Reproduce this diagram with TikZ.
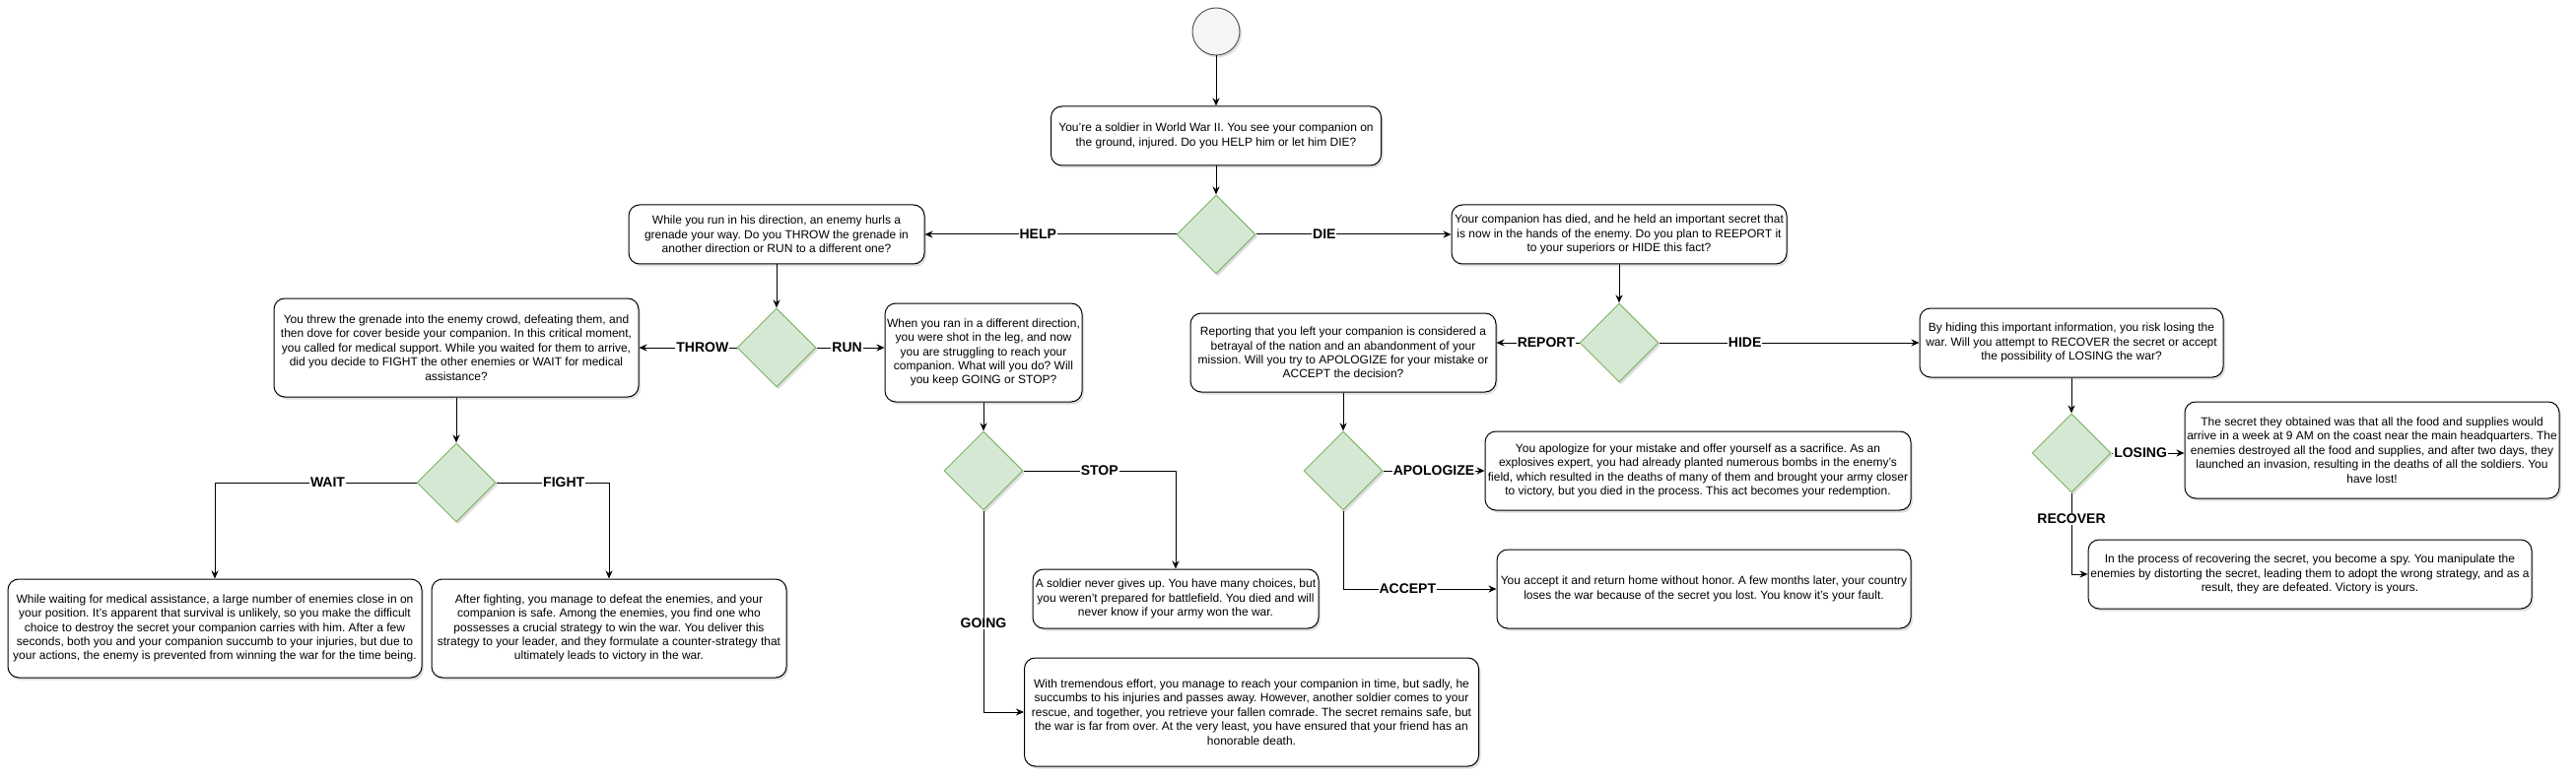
\documentclass[tikz,border=0pt]{standalone}
\usepackage{fontspec}
\setmainfont{Liberation Sans}
\usetikzlibrary{shapes.geometric,arrows.meta,shadows}
\definecolor{greenfill}{HTML}{D5E8D4}
\definecolor{greenline}{HTML}{82B366}
\definecolor{startfill}{HTML}{F5F5F5}
\frenchspacing
\begin{document}
\begin{tikzpicture}[x=1pt, y=-1pt, font=\fontsize{12}{14.4}\selectfont]
    \tikzstyle{box_style} = [draw=black, line width=1pt, rounded corners=11pt, fill=white, align=center, inner xsep=2pt, drop shadow={shadow xshift=2pt, shadow yshift=-2.5pt, opacity=0.25}]
    \tikzstyle{diamond_style} = [diamond, draw=greenline, line width=1pt, fill=greenfill, minimum width=80pt, minimum height=80pt, inner sep=0pt, drop shadow={shadow xshift=2pt, shadow yshift=-2.5pt, opacity=0.25}]
    \tikzstyle{label_style} = [fill=white, inner sep=1pt, font=\bfseries\fontsize{14}{16}\selectfont]
    \tikzstyle{arrow_style} = [->, black, line width=1pt, >={Stealth[length=8pt, width=7pt, inset=2.5pt]}]

    \useasboundingbox (0,0) rectangle (2614,794);

    \node[circle, draw=black!65, line width=1pt, fill=startfill, minimum size=48pt, drop shadow={shadow xshift=2pt, shadow yshift=-2.5pt, opacity=0.25}] (start) at (1234,32) {};
    \node[box_style, minimum width=335pt, minimum height=60pt] (q1) at (1234,138) {You're a soldier in World War II. You see your companion on\\the ground, injured. Do you HELP him or let him DIE?};
    \node[diamond_style] (d1) at (1234,238) {};

    \node[box_style, minimum width=300pt, minimum height=60pt] (help) at (788,238) {While you run in his direction, an enemy hurls a\\grenade your way. Do you THROW the grenade in\\another direction or RUN to a different one?};
    \node[box_style, minimum width=340pt, minimum height=60pt] (die) at (1643,238) {Your companion has died, and he held an important secret that\\is now in the hands of the enemy. Do you plan to REEPORT it\\to your superiors or HIDE this fact?};

    \node[diamond_style] (d2) at (788,353) {};
    \node[box_style, minimum width=370pt, minimum height=100pt] (throw) at (463,353) {You threw the grenade into the enemy crowd, defeating them, and\\then dove for cover beside your companion. In this critical moment,\\you called for medical support. While you waited for them to arrive,\\did you decide to FIGHT the other enemies or WAIT for medical\\assistance?};
    \node[box_style, minimum width=200pt, minimum height=100pt] (run) at (998,358) {When you ran in a different direction,\\you were shot in the leg, and now\\you are struggling to reach your\\companion. What will you do? Will\\you keep GOING or STOP?};

    \node[diamond_style] (d3) at (463,490) {};
    \node[box_style, minimum width=420pt, minimum height=100pt] (wait) at (218,638) {While waiting for medical assistance, a large number of enemies close in on\\your position. It's apparent that survival is unlikely, so you make the difficult\\choice to destroy the secret your companion carries with him. After a few\\seconds, both you and your companion succumb to your injuries, but due to\\your actions, the enemy is prevented from winning the war for the time being.};
    \node[box_style, minimum width=360pt, minimum height=100pt] (fight) at (618,638) {After fighting, you manage to defeat the enemies, and your\\companion is safe. Among the enemies, you find one who\\possesses a crucial strategy to win the war. You deliver this\\strategy to your leader, and they formulate a counter-strategy that\\ultimately leads to victory in the war.};

    \node[diamond_style] (d4) at (998,478) {};
    \node[box_style, minimum width=290pt, minimum height=60pt] (stop) at (1193,608) {A soldier never gives up. You have many choices, but\\you weren't prepared for battlefield. You died and will\\never know if your army won the war.};
    \node[box_style, minimum width=461pt, minimum height=110pt] (going) at (1270,723) {With tremendous effort, you manage to reach your companion in time, but sadly, he\\succumbs to his injuries and passes away. However, another soldier comes to your\\rescue, and together, you retrieve your fallen comrade. The secret remains safe, but\\the war is far from over. At the very least, you have ensured that your friend has an\\honorable death.};

    \node[diamond_style] (d5) at (1643,348) {};
    \node[box_style, minimum width=310pt, minimum height=80pt] (report) at (1363,358) {Reporting that you left your companion is considered a\\betrayal of the nation and an abandonment of your\\mission. Will you try to APOLOGIZE for your mistake or\\ACCEPT the decision?};
    \node[box_style, minimum width=308pt, minimum height=70pt] (hide) at (2102,348) {By hiding this important information, you risk losing the\\war. Will you attempt to RECOVER the secret or accept\\the possibility of LOSING the war?};

    \node[diamond_style] (d6) at (1363,478) {};
    \node[box_style, minimum width=432pt, minimum height=80pt] (apologize) at (1723,478) {You apologize for your mistake and offer yourself as a sacrifice. As an\\explosives expert, you had already planted numerous bombs in the enemy's\\field, which resulted in the deaths of many of them and brought your army closer\\to victory, but you died in the process. This act becomes your redemption.};
    \node[box_style, minimum width=420pt, minimum height=80pt] (accept) at (1729,598) {You accept it and return home without honor. A few months later, your country\\loses the war because of the secret you lost. You know it's your fault.};

    \node[diamond_style] (d7) at (2102,460) {};
    \node[box_style, minimum width=380pt, minimum height=98pt] (losing) at (2407,457) {The secret they obtained was that all the food and supplies would\\arrive in a week at 9 AM on the coast near the main headquarters. The\\enemies destroyed all the food and supplies, and after two days, they\\launched an invasion, resulting in the deaths of all the soldiers. You\\have lost!};
    \node[box_style, minimum width=450pt, minimum height=70pt] (recover) at (2344,583) {In the process of recovering the secret, you become a spy. You manipulate the\\enemies by distorting the secret, leading them to adopt the wrong strategy, and as a\\result, they are defeated. Victory is yours.};

    \draw[arrow_style] (start) -- (q1);
    \draw[arrow_style] (q1) -- (d1);
    \draw[arrow_style] (d1) -- node[label_style, pos=0.55] {HELP} (help);
    \draw[arrow_style] (d1) -- node[label_style, pos=0.35] {DIE} (die);
    \draw[arrow_style] (help) -- (d2);
    \draw[arrow_style] (d2) -- node[label_style, pos=0.35] {THROW} (throw);
    \draw[arrow_style] (d2.east) -- node[label_style, pos=0.45] {RUN} (d2.east -| run.west);
    \draw[arrow_style] (throw) -- (d3);
    \draw[arrow_style] (d3.west) -| node[label_style, pos=0.22] {WAIT} (wait.north);
    \draw[arrow_style] (d3.east) -| node[label_style, pos=0.3] {FIGHT} (fight.north);
    \draw[arrow_style] (run) -- (d4);
    \draw[arrow_style] (d4.east) -| node[label_style, pos=0.25] {STOP} (stop.north);
    \draw[arrow_style] (d4.south) |- node[label_style, pos=0.28] {GOING} (going.west);
    \draw[arrow_style] (die) -- (d5);
    \draw[arrow_style] (d5.west) -- node[label_style, pos=0.4] {REPORT} (d5.west -| report.east);
    \draw[arrow_style] (d5) -- node[label_style, pos=0.33] {HIDE} (hide);
    \draw[arrow_style] (report) -- (d6);
    \draw[arrow_style] (d6) -- node[label_style] {APOLOGIZE} (apologize);
    \draw[arrow_style] (d6.south) |- node[label_style, pos=0.71] {ACCEPT} (accept.west);
    \draw[arrow_style] (hide) -- (d7);
    \draw[arrow_style] (d7.east) -- node[label_style, pos=0.4] {LOSING} (d7.east -| losing.west);
    \draw[arrow_style] (d7.south) |- node[label_style, pos=0.16] {RECOVER} (recover.west);
\end{tikzpicture}
\end{document}
